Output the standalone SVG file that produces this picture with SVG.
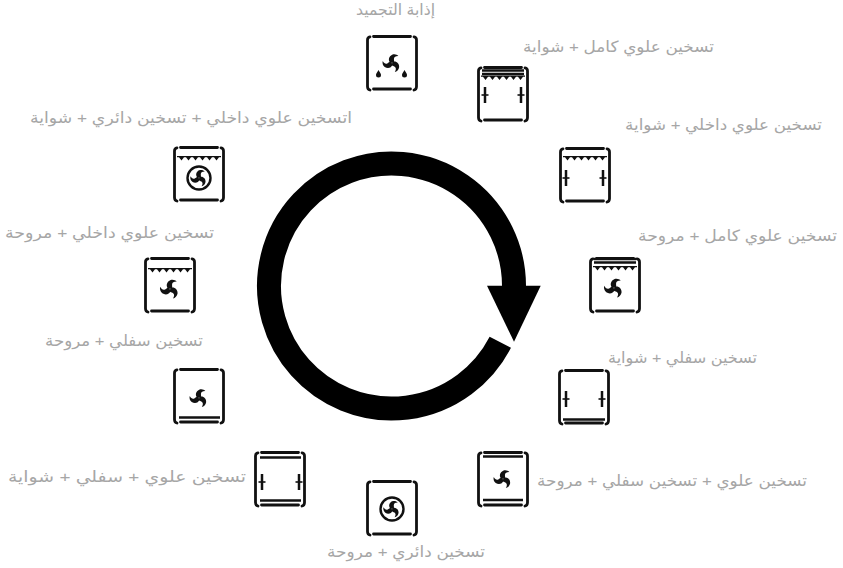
<svg xmlns="http://www.w3.org/2000/svg" width="843" height="568" viewBox="0 0 843 568">
<style>
.bg{fill:#fff}
text{font-family:"Liberation Sans","DejaVu Sans",sans-serif;font-size:15.5px;fill:#a6a6a6;text-anchor:middle;direction:rtl}
.f{fill:none;stroke:#111;stroke-width:2.8;stroke-linecap:round}
.h{fill:none;stroke:#111;stroke-width:2.5}
.t{fill:none;stroke:#111;stroke-width:1.6}
.k{fill:#111;stroke:none}
</style>
<defs>
<g id="frame">
<path class="f" d="M7.500 1.500H44.500M7.500 54H44.500M4 1.800Q1.500 2.300 1.500 5V51.500Q1.500 54.300 4 55M48 1.800Q50.500 2.300 50.500 5V51.500Q50.500 54.300 48 55"/>
</g>
<path id="blade" class="k" d="M-2.200 -.6C-4.800 -3.500 -3.700 -8 .2 -9.800C2.900 -10.900 6 -10 7.500 -8.200C4.500 -8.300 2.500 -7.300 2.300 -5C2.200 -3.300 2.800 -2 2.400 -.1Z"/>
<g id="fan">
<use href="#blade"/>
<use href="#blade" transform="rotate(120)"/>
<use href="#blade" transform="rotate(240)"/>
</g>
<g id="ring-fan">
<use href="#fan" transform="scale(.78)"/>
<circle r="11.500" fill="none" stroke="#111" stroke-width="2.400"/>
</g>
<path id="grill" class="k" d="M4 0H48V1.200L46 1.200 43.500 4.500 41 1.200 39 1.200 36.500 4.500 34 1.200 32 1.200 29.500 4.500 27 1.200 25 1.200 22.500 4.500 20 1.200 18 1.200 15.500 4.500 13 1.200 11 1.200 8.500 4.500 6 1.200 4 1.200Z"/>
<g id="rack"><path class="h" d="M0 0V16"/><path class="t" d="M-3.500 8H3.500"/></g>
<path id="double" class="h" d="M5 0H47M5 3.500H47"/>
</defs>
<rect class="bg" width="843" height="568"/>

<g id="connectors">
<path id="cycle-ring" d="M514 286A122.500 122.500 0 1 0 500.300 342.300" fill="none" stroke="#000" stroke-width="24"/>
<path id="cycle-head" d="M487 285.700H540.700L514 341.700Z" fill="#000"/>
</g>

<g id="node-defrost">
<use href="#frame" x="366" y="35"/>
<use href="#fan" transform="translate(392 63) scale(.85)"/>
<path class="k" d="M378.500 70c1.500 2.500 2.500 3.500 2.500 5a2.500 2.500 0 0 1-5 0c0-1.500 1-2.500 2.500-5ZM404.500 70c1.500 2.500 2.500 3.500 2.500 5a2.500 2.500 0 0 1-5 0c0-1.500 1-2.500 2.500-5Z"/>
<text x="395.500" y="15" textLength="79" lengthAdjust="spacingAndGlyphs">إذابة التجميد</text>
</g>

<g id="node-full-grill-top">
<use href="#frame" x="477" y="66"/>
<use href="#double" x="477" y="70.500"/>
<use href="#grill" x="477" y="75.500"/>
<use href="#rack" x="485" y="87"/>
<use href="#rack" x="521" y="87"/>
<text x="618.500" y="52" textLength="191" lengthAdjust="spacingAndGlyphs">تسخين علوي كامل + شواية</text>
</g>

<g id="node-inner-grill">
<use href="#frame" x="559" y="147"/>
<use href="#grill" x="559" y="156"/>
<use href="#rack" x="566" y="170"/>
<use href="#rack" x="603" y="170"/>
<text x="723.500" y="130" textLength="197" lengthAdjust="spacingAndGlyphs">تسخين علوي داخلي + شواية</text>
</g>

<g id="node-full-fan">
<use href="#frame" x="589" y="257"/>
<use href="#double" x="589" y="259"/>
<use href="#grill" x="589" y="266"/>
<use href="#fan" transform="translate(614 288) scale(.9)"/>
<text x="737.500" y="241" textLength="199" lengthAdjust="spacingAndGlyphs">تسخين علوي كامل + مروحة</text>
</g>

<g id="node-bottom-grill">
<use href="#frame" x="558" y="369"/>
<path class="h" d="M563 419.500H605"/>
<use href="#rack" x="566" y="391"/>
<use href="#rack" x="602" y="391"/>
<text x="682.500" y="363" textLength="149" lengthAdjust="spacingAndGlyphs">تسخين سفلي + شواية</text>
</g>

<g id="node-top-bottom-fan">
<use href="#frame" x="477" y="451"/>
<path class="h" d="M483 456.500H523"/>
<path class="h" d="M483 500H523"/>
<use href="#fan" transform="translate(503 479) scale(.85)"/>
<text x="672" y="486" textLength="270" lengthAdjust="spacingAndGlyphs">تسخين علوي + تسخين سفلي + مروحة</text>
</g>

<g id="node-ring-fan">
<use href="#frame" x="366" y="480"/>
<use href="#ring-fan" transform="translate(392 509)"/>
<text x="406" y="557" textLength="158" lengthAdjust="spacingAndGlyphs">تسخين دائري + مروحة</text>
</g>

<g id="node-top-bottom-grill">
<use href="#frame" x="254" y="451"/>
<path class="h" d="M260 457.500H301"/>
<path class="h" d="M260 500.500H301"/>
<use href="#rack" x="262" y="474"/>
<use href="#rack" x="299" y="474"/>
<text x="127" y="482" textLength="238" lengthAdjust="spacingAndGlyphs">تسخين علوي + سفلي + شواية</text>
</g>

<g id="node-bottom-fan">
<use href="#frame" x="173" y="368"/>
<path class="h" d="M179 417.500H220"/>
<use href="#fan" transform="translate(199 398) scale(.85)"/>
<text x="124" y="346" textLength="158" lengthAdjust="spacingAndGlyphs">تسخين سفلي + مروحة</text>
</g>

<g id="node-inner-fan">
<use href="#frame" x="144" y="257"/>
<use href="#grill" x="144" y="268"/>
<use href="#fan" transform="translate(170 289) scale(.9)"/>
<text x="109.500" y="238" textLength="209" lengthAdjust="spacingAndGlyphs">تسخين علوي داخلي + مروحة</text>
</g>

<g id="node-inner-ring-grill">
<use href="#frame" x="173" y="146"/>
<use href="#grill" x="173" y="156"/>
<use href="#ring-fan" transform="translate(199 178)"/>
<text x="191" y="123" textLength="322" lengthAdjust="spacingAndGlyphs">اتسخين علوي داخلي + تسخين دائري + شواية</text>
</g>
</svg>
